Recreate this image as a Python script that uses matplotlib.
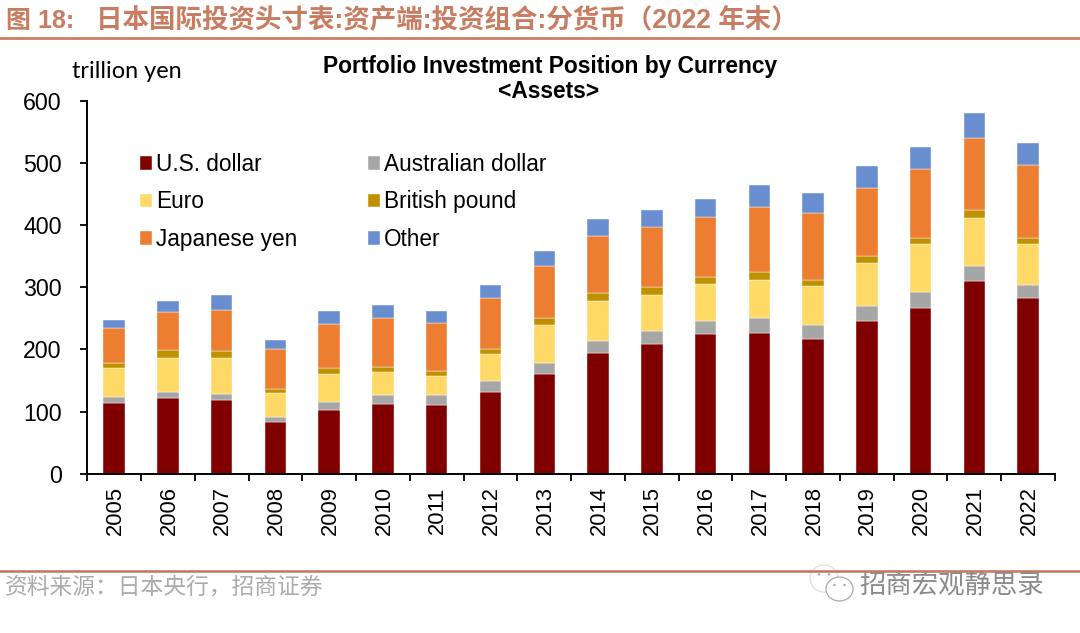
import matplotlib
matplotlib.use("Agg")
import matplotlib.pyplot as plt
import numpy as np
from matplotlib.lines import Line2D
from matplotlib.patches import Ellipse
from matplotlib.transforms import ScaledTranslation

W, H = 1080, 633

YEARS = [str(y) for y in range(2005, 2023)]
USD = [114, 122, 118, 83, 102.5, 112, 111, 131, 161, 194, 209, 225, 226, 217, 246, 266.5, 310.5, 282.5]
AUD = [9, 10, 11, 9, 12.5, 14, 15.5, 18, 17, 19, 21.5, 21.5, 24, 22, 24, 26.5, 24.5, 21]
EUR = [47.5, 55, 56.5, 38, 46, 38, 30, 43, 62, 65, 57.5, 58.5, 62.5, 63, 69, 76, 77, 65.5]
GBP = [8, 12, 11.5, 7, 9.5, 7.5, 8.5, 9.5, 11, 13.5, 13, 12, 11.5, 10.5, 11.5, 11, 13, 11]
JPY = [56.5, 61, 67, 63, 70.5, 78.5, 78, 81, 83, 90.5, 96, 96, 105.5, 107.5, 110, 110, 115.5, 116.5]
OTHER = [13, 18, 23, 15, 21, 22, 19, 22, 25, 28.5, 27.5, 29, 34.5, 31.5, 35.5, 36.5, 40.5, 35.5]

SERIES = [
    ("U.S. dollar", USD, "#800000"),
    ("Australian dollar", AUD, "#A6A6A6"),
    ("Euro", EUR, "#FFD966"),
    ("British pound", GBP, "#BF9000"),
    ("Japanese yen", JPY, "#ED7D31"),
    ("Other", OTHER, "#698ED0"),
]
LEGEND_ORDER = [0, 2, 4, 1, 3, 5]

HEADER = "日本国际投资头寸表:资产端:投资组合:分货币（2022 年末）"
SOURCE = "资料来源：日本央行，招商证券"
WATERMARK = "招商宏观静思录"

RULE_COLOR = "#C8785C"
HEADER_COLOR = "#C87D62"
CJK = ["Liberation Sans", "Noto Sans CJK SC"]

plt.rcParams["font.family"] = ["Liberation Sans", "Noto Sans CJK SC", "DejaVu Sans"]


def px(x, y):
    return x / W, 1 - y / H


fig = plt.figure(figsize=(W / 100, H / 100), dpi=100)
ax = fig.add_axes([87.3 / W, 1 - 473.7 / H, (1055 - 87.3) / W, (473.7 - 101) / H])

x = np.arange(len(YEARS))
bottom = np.zeros(len(YEARS))
handles = []
for name, values, color in SERIES:
    bars = ax.bar(x, values, 0.4, bottom=bottom, color=color, label=name,
                  edgecolor="white", linewidth=0.3)
    handles.append(bars)
    bottom += np.array(values)

ax.set_xlim(-0.5, len(YEARS) - 0.5)
ax.set_ylim(0, 600)
ax.set_yticks(range(0, 601, 100))
ax.tick_params(axis="y", labelsize=16.7, length=5, width=1.3, pad=13.5)
ax.set_xticks(x)
ax.set_xticklabels(YEARS, rotation=90, fontsize=15.8)
ax.tick_params(axis="x", which="major", length=0, pad=9)
ax.set_xticks(np.arange(-0.5, len(YEARS)), minor=True)
ax.tick_params(axis="x", which="minor", length=5, width=1.3)
for side in ["top", "right"]:
    ax.spines[side].set_visible(False)
for side in ["left", "bottom"]:
    ax.spines[side].set_linewidth(1.4)

# the year labels sit slightly right of their bars in the original
shift = ScaledTranslation(1 / 100, 0, fig.dpi_scale_trans)
for label in ax.get_xticklabels():
    label.set_transform(label.get_transform() + shift)

ax.legend([handles[i] for i in LEGEND_ORDER], [SERIES[i][0] for i in LEGEND_ORDER],
          ncol=2, frameon=False, fontsize=16.3, loc="upper left",
          bbox_to_anchor=((140 - 87.3) / (1055 - 87.3), 1 - (153 - 101) / (473.7 - 101)),
          borderaxespad=0, borderpad=0, labelspacing=0.64, handlelength=0.53,
          handleheight=0.53, handletextpad=0.18, columnspacing=3.1)

fig.text(*px(127, 71), "trillion yen", fontsize=16.9, ha="center", va="center",
         family=["Lato", "DejaVu Sans"])
fig.text(*px(550, 66.5), "Portfolio Investment Position by Currency", fontsize=16.4,
         fontweight="bold", ha="center", va="center")
fig.text(*px(549, 92), "<Assets>", fontsize=16.4, fontweight="bold", ha="center", va="center")

# header and footer around the chart
fig.text(*px(6, 21), "图 18:", fontsize=18, fontweight="bold", color=HEADER_COLOR,
         ha="left", va="center", family=CJK)
fig.text(*px(96, 21), HEADER, fontsize=19.1, fontweight="bold", color=HEADER_COLOR,
         ha="left", va="center", family=CJK)
fig.add_artist(Line2D([0, 1], [1 - 38 / H] * 2, color=RULE_COLOR, lw=1.9))
fig.add_artist(Line2D([0, 1], [1 - 571.3 / H] * 2, color=RULE_COLOR, lw=1.9))
fig.text(*px(5, 587), SOURCE, fontsize=16.4, color="#ABABAB", ha="left", va="center", family=CJK)

# small chat bubble icon beside the watermark, it covers the rule
for cx, cy, w, h, edge in [(824, 578.5, 28, 27, "#DDDDDD"), (839.5, 589, 27, 24, "#AAAAAA")]:
    fig.add_artist(Ellipse(px(cx, cy), w / W, h / H, fc="white", ec=edge, lw=0.9,
                           transform=fig.transFigure))
    for dx in (-5, 5):
        fig.add_artist(Ellipse(px(cx + dx, cy - 4), 2.5 / W, 2.5 / H, fc="#AAAAAA", ec="none",
                               transform=fig.transFigure))
fig.text(*px(859, 585), WATERMARK, fontsize=19, color="#8A8A8A", ha="left", va="center", family=CJK)

fig.savefig("out.png", dpi=100)
